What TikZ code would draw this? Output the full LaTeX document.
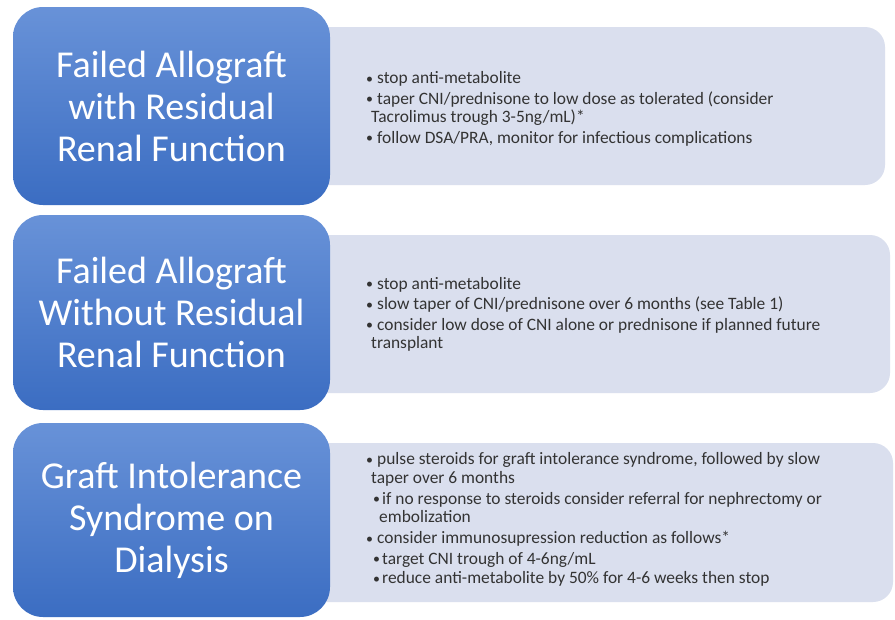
\documentclass[tikz,border=0pt]{standalone}
\usepackage{fontspec}
\setmainfont{Carlito}
\definecolor{headTop}{HTML}{6892D8}
\definecolor{headBot}{HTML}{3B6DC2}
\definecolor{panelFill}{HTML}{DADFEE}
\definecolor{noteInk}{HTML}{333333}
% bullet helpers: bullet, wrapped line, sub-bullet, wrapped sub-line
\newcommand\bul{\makebox[11pt][l]{\raisebox{0.5pt}{\scalebox{0.8}{\textbullet}}}}
\newcommand\wrapin{\hspace*{5pt}}
\newcommand\subbul{\hspace*{7pt}\makebox[9pt][l]{\raisebox{0.5pt}{\scalebox{0.8}{\textbullet}}}}
\newcommand\subwrapin{\hspace*{13pt}}
\begin{document}
\begin{tikzpicture}[x=1pt,y=-1pt,
  headbox/.style={rounded corners=30pt, top color=headTop, bottom color=headBot,
    minimum width=317pt, text=white, align=center, inner sep=0pt,
    font=\fontsize{38}{42}\selectfont},
  panelbox/.style={rounded corners=20pt, fill=panelFill, inner sep=0pt},
  notes/.style={anchor=west, align=left, text=noteInk, inner sep=0pt,
    font=\fontsize{17.4}{18.5}\selectfont}]
\useasboundingbox[fill=white] (0,0) rectangle (895,619);

% light panels holding the notes
\node[panelbox, minimum width=585pt, minimum height=158pt] (p1) at (592.5,106) {};
\node[panelbox, minimum width=590pt, minimum height=158pt] (p2) at (595,314) {};
\node[panelbox, minimum width=593pt, minimum height=159pt] (p3) at (596.5,522.5) {};

% blue heading blocks
\node[headbox, minimum height=198pt] (b1) at (171.5,106)
  {Failed Allograft\\with Residual\\Renal Function};
\node[headbox, minimum height=195pt] (b2) at (171.5,312.5)
  {Failed Allograft\\Without Residual\\Renal Function};
\node[headbox, minimum height=194pt] (b3) at (171.5,520)
  {Graft Intolerance\\Syndrome on\\Dialysis};

% notes
\node[notes] (t1) at (366,109) {%
  \bul stop anti-metabolite\\[2pt]
  \bul taper CNI/prednisone to low dose as tolerated (consider\\
  \wrapin Tacrolimus trough 3-5ng/mL)*\\[2pt]
  \bul follow DSA/PRA, monitor for infectious complications};
\node[notes] (t2) at (366,314.5) {%
  \bul stop anti-metabolite\\[2pt]
  \bul slow taper of CNI/prednisone over 6 months (see Table 1)\\[2pt]
  \bul consider low dose of CNI alone or prednisone if planned future\\
  \wrapin transplant};
\node[notes] (t3) at (366,519.5) {%
  \bul pulse steroids for graft intolerance syndrome, followed by slow\\
  \wrapin taper over 6 months\\[2.5pt]
  \subbul if no response to steroids consider referral for nephrectomy or\\
  \subwrapin embolization\\[2.5pt]
  \bul consider immunosupression reduction as follows*\\[2pt]
  \subbul target CNI trough of 4-6ng/mL\\[1pt]
  \subbul reduce anti-metabolite by 50\% for 4-6 weeks then stop};
\end{tikzpicture}
\end{document}
